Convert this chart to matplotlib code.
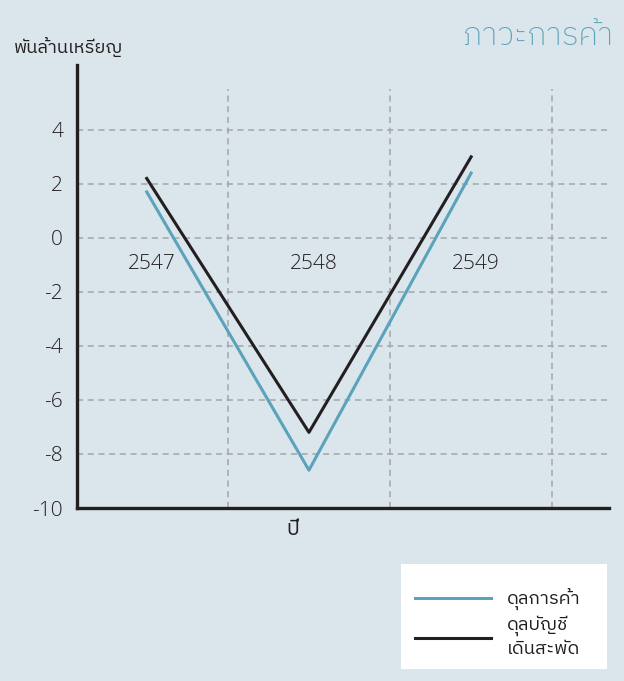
import numpy as np
import matplotlib
matplotlib.use("Agg")
import matplotlib.pyplot as plt
from matplotlib import font_manager
from matplotlib.ft2font import FT2Font
from matplotlib.lines import Line2D
from matplotlib.patches import Rectangle

# data (พันล้านเหรียญ)
years = ["2547", "2548", "2549"]
trade_balance = [1.7, -8.6, 2.4]      # ดุลการค้า
current_account = [2.2, -7.2, 3.0]    # ดุลบัญชีเดินสะพัด
yticks = [4, 2, 0, -2, -4, -6, -8, -10]


def find_thai_font():
    found = []
    for f in font_manager.fontManager.ttflist:
        try:
            if FT2Font(f.fname).get_char_index(ord("ก")):
                found.append(f.name)
        except Exception:
            pass
    if not found:
        return None
    for name in found:
        if "Thai" in name and "Looped" not in name:
            return name
    return found[0]


thai = find_thai_font()
fams = ["Open Sans"] + ([thai] if thai else []) + ["DejaVu Sans"]
plt.rcParams["font.family"] = fams

bg = "#dbe5ec"
blue = "#5ba3ba"
dark = "#231f20"
gridc = "#a2a6aa"
W, H = 624, 681

fig = plt.figure(figsize=(W / 100, H / 100), dpi=100, facecolor=bg)
ax = fig.add_axes([77 / W, 1 - 508 / H, 532 / W, 443 / H])
ax.set_facecolor(bg)

x = np.arange(len(years))
ax.set_xlim(-0.43, 2.85)
ax.set_ylim(-10, 6.4)

for yv in yticks[:-1]:
    ax.axhline(yv, color=gridc, lw=1.1, ls=(0, (4, 3)), zorder=1)
for gx in x + 0.5:
    ax.plot([gx, gx], [-10, 5.5], color=gridc, lw=1.1, ls=(0, (4, 3)), zorder=1)

ax.plot(x, trade_balance, color=blue, lw=2.2, zorder=3)
ax.plot(x, current_account, color=dark, lw=2.2, zorder=3)

for xi, yr in zip(x, years):
    ax.text(xi + 0.03, -0.95, yr, ha="center", va="center", fontsize=15,
            color=dark, fontweight="light")

ax.set_yticks(yticks)
ax.set_yticklabels([str(v) for v in yticks], fontsize=15, color=dark,
                   fontweight="light")
ax.set_xticks([])
ax.tick_params(axis="y", length=0, pad=10)
for s in ["top", "right"]:
    ax.spines[s].set_visible(False)
for s in ["left", "bottom"]:
    ax.spines[s].set_linewidth(2.4)
    ax.spines[s].set_color(dark)

ax.set_xlabel("ปี", fontsize=15, color=dark)
ax.xaxis.set_label_coords((293 - 77) / 532, -0.025)

fig.text(14 / W, 1 - 47 / H, "พันล้านเหรียญ", fontsize=13.2, color=dark,
         ha="left", va="center")
fig.text(613 / W, 1 - 37 / H, "ภาวะการค้า", fontsize=23, color=blue,
         ha="right", va="center", fontweight="light")

# white legend panel
fig.patches.append(Rectangle((401 / W, 1 - 669 / H), 206 / W, 105 / H,
                             transform=fig.transFigure, facecolor="white",
                             edgecolor="none", zorder=0))

handles = [Line2D([], [], color=blue, lw=2.2),
           Line2D([], [], color=dark, lw=2.2)]
leg = fig.legend(handles, ["ดุลการค้า", "ดุลบัญชี\nเดินสะพัด"],
                 loc="upper left", bbox_to_anchor=(415 / W, 1 - 588 / H),
                 fontsize=13.3, frameon=False, handlelength=4.1,
                 handletextpad=0.9, borderpad=0, labelspacing=0.3,
                 borderaxespad=0)
for t in leg.get_texts():
    t.set_color(dark)
    t.set_linespacing(1.3)

fig.savefig("out.png", dpi=100, facecolor=bg)
